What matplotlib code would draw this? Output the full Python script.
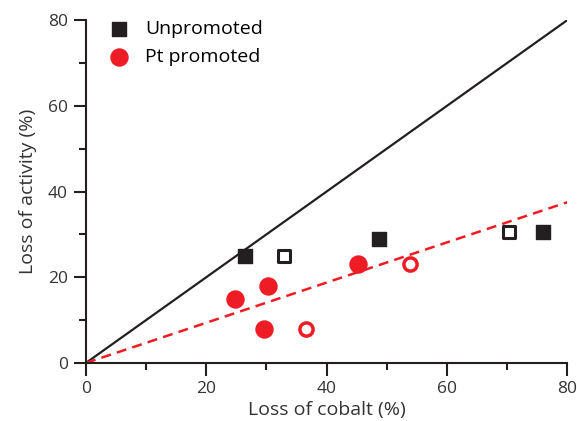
import matplotlib
matplotlib.use("Agg")
import matplotlib.pyplot as plt
from matplotlib.ticker import MultipleLocator

plt.rcParams["font.family"] = ["Open Sans", "DejaVu Sans"]

# ─── Dati ─────────────────────────────────────────────────────────────────────
unpro_x       = [26.5, 48.7, 76.0]
unpro_y       = [25.0, 29.0, 30.5]
unpro_open_x  = [32.9, 70.3]
unpro_open_y  = [25.0, 30.5]

pt_x          = [24.8, 30.3, 29.6, 45.2]
pt_y          = [15.0, 18.0, 8.0, 23.0]
pt_open_x     = [36.5, 53.8]
pt_open_y     = [8.0, 23.0]

parity_x = [0, 80]
parity_y = [0, 80]
fit_x    = [0, 80]
fit_y    = [0, 37.5]

RED = "#ee1c25"
INK = "#231f20"

fig = plt.figure(figsize=(5.77, 4.21), dpi=100)
ax = fig.add_axes([0.149, 0.138, 0.834, 0.814])

ax.plot(parity_x, parity_y, color=INK, lw=1.6, zorder=1)
ax.plot(fit_x, fit_y, color=RED, lw=1.8, ls=(0, (4, 2.5)), zorder=1)

ax.scatter(unpro_x, unpro_y, marker="s", s=110, color=INK, zorder=3,
           label="Unpromoted")
ax.scatter(unpro_open_x, unpro_open_y, marker="s", s=75, facecolor="white",
           edgecolor=INK, linewidth=2.2, zorder=3)
ax.scatter(pt_x, pt_y, marker="o", s=150, color=RED, zorder=3,
           label="Pt promoted")
ax.scatter(pt_open_x, pt_open_y, marker="o", s=90, facecolor="white",
           edgecolor=RED, linewidth=2.5, zorder=3)

ax.set_xlim(0, 80)
ax.set_ylim(0, 80)
ax.xaxis.set_major_locator(MultipleLocator(20))
ax.xaxis.set_minor_locator(MultipleLocator(10))
ax.yaxis.set_major_locator(MultipleLocator(20))
ax.yaxis.set_minor_locator(MultipleLocator(10))
ax.tick_params(which="both", direction="out", width=1.5, labelsize=12.5,
               colors=INK, labelcolor="#333333")
ax.tick_params(which="major", length=9, pad=4)
ax.tick_params(which="minor", length=5)
for s in ["top", "right"]:
    ax.spines[s].set_visible(False)
for s in ["left", "bottom"]:
    ax.spines[s].set_linewidth(1.5)
    ax.spines[s].set_color(INK)

ax.set_xlabel("Loss of cobalt (%)", fontsize=14, color="#333333", labelpad=3)
ax.set_ylabel("Loss of activity (%)", fontsize=14, color="#333333", labelpad=8)

ax.legend(loc="upper left", frameon=False, fontsize=14, handletextpad=0.35,
          bbox_to_anchor=(0.012, 1.024), borderaxespad=0.0, labelspacing=0.55)

fig.savefig("out.png", dpi=100)
